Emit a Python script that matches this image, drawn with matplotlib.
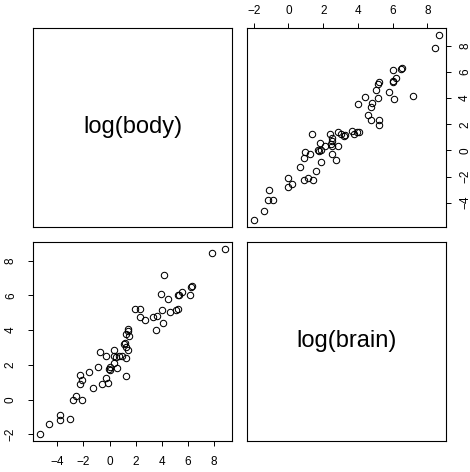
"""Scatterplot matrix of log body weight vs log brain weight for 62 mammals."""

import numpy as np
import matplotlib
matplotlib.use("Agg")
import matplotlib.pyplot as plt

plt.rcParams["font.family"] = ["Liberation Sans", "DejaVu Sans"]

# body weight (kg) and brain weight (g)
body = [3.385, 0.480, 1.350, 465.0, 36.33, 27.66, 14.83, 1.040, 4.190, 0.425,
        0.101, 0.920, 1.000, 0.005, 0.060, 3.500, 2.000, 1.700, 2547.0, 0.023,
        187.1, 521.0, 0.785, 10.00, 3.300, 0.200, 1.410, 529.0, 207.0, 85.00,
        0.750, 62.00, 6654.0, 3.500, 6.800, 35.00, 4.050, 0.120, 0.023, 0.010,
        1.400, 250.0, 2.500, 55.50, 100.0, 52.16, 10.55, 0.550, 60.00, 3.600,
        4.288, 0.280, 0.075, 0.122, 0.048, 192.0, 3.000, 160.0, 0.900, 1.620,
        0.104, 4.235]
brain = [44.5, 15.5, 8.1, 423.0, 119.5, 115.0, 98.2, 5.5, 58.0, 6.4,
         4.0, 5.7, 6.6, 0.14, 1.0, 10.8, 12.3, 6.3, 4603.0, 0.3,
         419.0, 655.0, 3.5, 115.0, 25.6, 5.0, 17.5, 680.0, 406.0, 325.0,
         12.3, 1320.0, 5712.0, 3.9, 179.0, 56.0, 17.0, 1.0, 0.4, 0.25,
         12.5, 490.0, 12.1, 175.0, 157.0, 440.0, 179.5, 2.4, 81.0, 21.0,
         39.2, 1.9, 1.2, 3.0, 0.33, 180.0, 25.0, 169.0, 2.6, 11.4,
         2.5, 50.4]

names = ["log(body)", "log(brain)"]
ticks = [[-4, -2, 0, 2, 4, 6, 8], [-2, 0, 2, 4, 6, 8]]

data = [np.log(body), np.log(brain)]


def padded(v):
    lo, hi = v.min(), v.max()
    d = 0.04 * (hi - lo)
    return lo - d, hi + d


lims = [padded(v) for v in data]

fig = plt.figure(figsize=(4.70, 4.72), dpi=100)
W, H = 470, 472
lefts = [33, 247]
tops = [28, 242]
size = 199

axes = {}
for i in range(2):
    for j in range(2):
        ax = fig.add_axes([lefts[j] / W, 1 - (tops[i] + size) / H, size / W, size / H])
        axes[i, j] = ax
        for s in ax.spines.values():
            s.set_linewidth(0.8)
            s.set_color("black")
        ax.tick_params(length=3.6, width=0.7, labelsize=8.5, colors="black",
                       bottom=False, left=False, labelbottom=False, labelleft=False)
        if i == j:
            ax.set_xlim(0, 1)
            ax.set_ylim(0, 1)
            ax.set_xticks([])
            ax.set_yticks([])
            ax.text(0.5, 0.5, names[i], ha="center", va="center", fontsize=17)
        else:
            ax.plot(data[j], data[i], linestyle="none", marker="o", markersize=4.6,
                    markerfacecolor="none", markeredgecolor="black", markeredgewidth=0.75)
            ax.set_xlim(*lims[j])
            ax.set_ylim(*lims[i])
            ax.set_xticks(ticks[j])
            ax.set_yticks(ticks[i])
            ax.set_yticklabels([str(t).replace("-", "\u2212") for t in ticks[i]],
                               rotation=90, va="center")
            ax.set_xticklabels([str(t).replace("-", "\u2212") for t in ticks[j]])

# axes on the outer sides, alternating as in a pairs plot
axes[0, 1].tick_params(axis="x", top=True, labeltop=True, pad=4.3)
axes[0, 1].tick_params(axis="y", right=True, labelright=True, pad=5.8)
axes[1, 0].tick_params(axis="x", bottom=True, labelbottom=True, pad=7.0)
axes[1, 0].tick_params(axis="y", left=True, labelleft=True, pad=8.0)

fig.savefig("out.png", dpi=100)
